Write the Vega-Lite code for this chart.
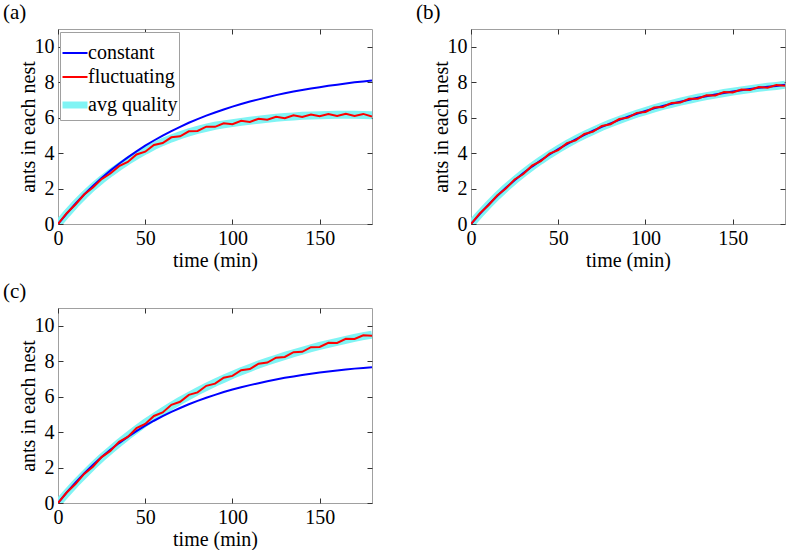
{
"$schema": "https://vega.github.io/schema/vega-lite/v6.json",
"padding": {"left": 2, "top": 1, "right": 0, "bottom": 0},
"background": "white",
"columns": 2,
"spacing": {"column": 99, "row": 84},
"bounds": "flush",
"resolve": {"scale": {"color": "independent", "x": "independent", "y": "independent"}, "legend": {"color": "independent"}},
"datasets": {
"a": [
{"series":"constant","time":0,"ants":0},{"series":"constant","time":5,"ants":0.59},{"series":"constant","time":10,"ants":1.14},{"series":"constant","time":15,"ants":1.66},{"series":"constant","time":20,"ants":2.14},{"series":"constant","time":25,"ants":2.59},{"series":"constant","time":30,"ants":3.01},{"series":"constant","time":35,"ants":3.40},{"series":"constant","time":40,"ants":3.76},{"series":"constant","time":45,"ants":4.10},{"series":"constant","time":50,"ants":4.42},{"series":"constant","time":55,"ants":4.71},{"series":"constant","time":60,"ants":4.99},{"series":"constant","time":65,"ants":5.24},{"series":"constant","time":70,"ants":5.48},{"series":"constant","time":75,"ants":5.71},{"series":"constant","time":80,"ants":5.92},{"series":"constant","time":85,"ants":6.11},{"series":"constant","time":90,"ants":6.29},{"series":"constant","time":95,"ants":6.46},{"series":"constant","time":100,"ants":6.62},{"series":"constant","time":105,"ants":6.77},{"series":"constant","time":110,"ants":6.91},{"series":"constant","time":115,"ants":7.03},{"series":"constant","time":120,"ants":7.15},{"series":"constant","time":125,"ants":7.27},{"series":"constant","time":130,"ants":7.37},{"series":"constant","time":135,"ants":7.47},{"series":"constant","time":140,"ants":7.56},{"series":"constant","time":145,"ants":7.64},{"series":"constant","time":150,"ants":7.72},{"series":"constant","time":155,"ants":7.80},{"series":"constant","time":160,"ants":7.86},{"series":"constant","time":165,"ants":7.93},{"series":"constant","time":170,"ants":7.99},{"series":"constant","time":175,"ants":8.04},{"series":"constant","time":180,"ants":8.10},
{"series":"avg quality","time":0,"ants":0},{"series":"avg quality","time":5,"ants":0.58},{"series":"avg quality","time":10,"ants":1.13},{"series":"avg quality","time":15,"ants":1.63},{"series":"avg quality","time":20,"ants":2.09},{"series":"avg quality","time":25,"ants":2.50},{"series":"avg quality","time":30,"ants":2.88},{"series":"avg quality","time":35,"ants":3.23},{"series":"avg quality","time":40,"ants":3.56},{"series":"avg quality","time":45,"ants":3.86},{"series":"avg quality","time":50,"ants":4.14},{"series":"avg quality","time":55,"ants":4.40},{"series":"avg quality","time":60,"ants":4.63},{"series":"avg quality","time":65,"ants":4.83},{"series":"avg quality","time":70,"ants":5.01},{"series":"avg quality","time":75,"ants":5.17},{"series":"avg quality","time":80,"ants":5.31},{"series":"avg quality","time":85,"ants":5.43},{"series":"avg quality","time":90,"ants":5.54},{"series":"avg quality","time":95,"ants":5.62},{"series":"avg quality","time":100,"ants":5.69},{"series":"avg quality","time":105,"ants":5.76},{"series":"avg quality","time":110,"ants":5.82},{"series":"avg quality","time":115,"ants":5.88},{"series":"avg quality","time":120,"ants":5.94},{"series":"avg quality","time":125,"ants":5.99},{"series":"avg quality","time":130,"ants":6.03},{"series":"avg quality","time":135,"ants":6.07},{"series":"avg quality","time":140,"ants":6.10},{"series":"avg quality","time":145,"ants":6.12},{"series":"avg quality","time":150,"ants":6.14},{"series":"avg quality","time":155,"ants":6.15},{"series":"avg quality","time":160,"ants":6.16},{"series":"avg quality","time":165,"ants":6.16},{"series":"avg quality","time":170,"ants":6.16},{"series":"avg quality","time":175,"ants":6.15},{"series":"avg quality","time":180,"ants":6.13},
{"series":"fluctuating","time":0,"ants":0},{"series":"fluctuating","time":5,"ants":0.61},{"series":"fluctuating","time":10,"ants":1.10},{"series":"fluctuating","time":15,"ants":1.66},{"series":"fluctuating","time":20,"ants":2.06},{"series":"fluctuating","time":25,"ants":2.53},{"series":"fluctuating","time":30,"ants":2.85},{"series":"fluctuating","time":35,"ants":3.26},{"series":"fluctuating","time":40,"ants":3.50},{"series":"fluctuating","time":45,"ants":3.92},{"series":"fluctuating","time":50,"ants":4.08},{"series":"fluctuating","time":55,"ants":4.46},{"series":"fluctuating","time":60,"ants":4.57},{"series":"fluctuating","time":65,"ants":4.89},{"series":"fluctuating","time":70,"ants":4.95},{"series":"fluctuating","time":75,"ants":5.23},{"series":"fluctuating","time":80,"ants":5.25},{"series":"fluctuating","time":85,"ants":5.49},{"series":"fluctuating","time":90,"ants":5.48},{"series":"fluctuating","time":95,"ants":5.68},{"series":"fluctuating","time":100,"ants":5.63},{"series":"fluctuating","time":105,"ants":5.82},{"series":"fluctuating","time":110,"ants":5.76},{"series":"fluctuating","time":115,"ants":5.94},{"series":"fluctuating","time":120,"ants":5.88},{"series":"fluctuating","time":125,"ants":6.05},{"series":"fluctuating","time":130,"ants":5.97},{"series":"fluctuating","time":135,"ants":6.13},{"series":"fluctuating","time":140,"ants":6.04},{"series":"fluctuating","time":145,"ants":6.18},{"series":"fluctuating","time":150,"ants":6.08},{"series":"fluctuating","time":155,"ants":6.21},{"series":"fluctuating","time":160,"ants":6.10},{"series":"fluctuating","time":165,"ants":6.22},{"series":"fluctuating","time":170,"ants":6.10},{"series":"fluctuating","time":175,"ants":6.21},{"series":"fluctuating","time":180,"ants":6.06}
],
"b": [
{"series":"constant","time":0,"ants":0},{"series":"constant","time":5,"ants":0.56},{"series":"constant","time":10,"ants":1.09},{"series":"constant","time":15,"ants":1.58},{"series":"constant","time":20,"ants":2.04},{"series":"constant","time":25,"ants":2.47},{"series":"constant","time":30,"ants":2.87},{"series":"constant","time":35,"ants":3.24},{"series":"constant","time":40,"ants":3.59},{"series":"constant","time":45,"ants":3.92},{"series":"constant","time":50,"ants":4.22},{"series":"constant","time":55,"ants":4.51},{"series":"constant","time":60,"ants":4.78},{"series":"constant","time":65,"ants":5.03},{"series":"constant","time":70,"ants":5.26},{"series":"constant","time":75,"ants":5.48},{"series":"constant","time":80,"ants":5.68},{"series":"constant","time":85,"ants":5.87},{"series":"constant","time":90,"ants":6.05},{"series":"constant","time":95,"ants":6.22},{"series":"constant","time":100,"ants":6.37},{"series":"constant","time":105,"ants":6.52},{"series":"constant","time":110,"ants":6.66},{"series":"constant","time":115,"ants":6.78},{"series":"constant","time":120,"ants":6.90},{"series":"constant","time":125,"ants":7.01},{"series":"constant","time":130,"ants":7.12},{"series":"constant","time":135,"ants":7.21},{"series":"constant","time":140,"ants":7.30},{"series":"constant","time":145,"ants":7.39},{"series":"constant","time":150,"ants":7.47},{"series":"constant","time":155,"ants":7.54},{"series":"constant","time":160,"ants":7.61},{"series":"constant","time":165,"ants":7.68},{"series":"constant","time":170,"ants":7.74},{"series":"constant","time":175,"ants":7.79},{"series":"constant","time":180,"ants":7.85},
{"series":"avg quality","time":0,"ants":0},{"series":"avg quality","time":5,"ants":0.56},{"series":"avg quality","time":10,"ants":1.09},{"series":"avg quality","time":15,"ants":1.58},{"series":"avg quality","time":20,"ants":2.04},{"series":"avg quality","time":25,"ants":2.47},{"series":"avg quality","time":30,"ants":2.87},{"series":"avg quality","time":35,"ants":3.24},{"series":"avg quality","time":40,"ants":3.59},{"series":"avg quality","time":45,"ants":3.92},{"series":"avg quality","time":50,"ants":4.22},{"series":"avg quality","time":55,"ants":4.51},{"series":"avg quality","time":60,"ants":4.78},{"series":"avg quality","time":65,"ants":5.03},{"series":"avg quality","time":70,"ants":5.26},{"series":"avg quality","time":75,"ants":5.48},{"series":"avg quality","time":80,"ants":5.68},{"series":"avg quality","time":85,"ants":5.87},{"series":"avg quality","time":90,"ants":6.05},{"series":"avg quality","time":95,"ants":6.22},{"series":"avg quality","time":100,"ants":6.37},{"series":"avg quality","time":105,"ants":6.52},{"series":"avg quality","time":110,"ants":6.66},{"series":"avg quality","time":115,"ants":6.78},{"series":"avg quality","time":120,"ants":6.90},{"series":"avg quality","time":125,"ants":7.01},{"series":"avg quality","time":130,"ants":7.12},{"series":"avg quality","time":135,"ants":7.21},{"series":"avg quality","time":140,"ants":7.30},{"series":"avg quality","time":145,"ants":7.39},{"series":"avg quality","time":150,"ants":7.47},{"series":"avg quality","time":155,"ants":7.54},{"series":"avg quality","time":160,"ants":7.61},{"series":"avg quality","time":165,"ants":7.68},{"series":"avg quality","time":170,"ants":7.74},{"series":"avg quality","time":175,"ants":7.79},{"series":"avg quality","time":180,"ants":7.85},
{"series":"fluctuating","time":0,"ants":0},{"series":"fluctuating","time":5,"ants":0.59},{"series":"fluctuating","time":10,"ants":1.06},{"series":"fluctuating","time":15,"ants":1.61},{"series":"fluctuating","time":20,"ants":2.00},{"series":"fluctuating","time":25,"ants":2.51},{"series":"fluctuating","time":30,"ants":2.82},{"series":"fluctuating","time":35,"ants":3.29},{"series":"fluctuating","time":40,"ants":3.54},{"series":"fluctuating","time":45,"ants":3.97},{"series":"fluctuating","time":50,"ants":4.17},{"series":"fluctuating","time":55,"ants":4.56},{"series":"fluctuating","time":60,"ants":4.72},{"series":"fluctuating","time":65,"ants":5.08},{"series":"fluctuating","time":70,"ants":5.21},{"series":"fluctuating","time":75,"ants":5.53},{"series":"fluctuating","time":80,"ants":5.63},{"series":"fluctuating","time":85,"ants":5.92},{"series":"fluctuating","time":90,"ants":6.00},{"series":"fluctuating","time":95,"ants":6.27},{"series":"fluctuating","time":100,"ants":6.32},{"series":"fluctuating","time":105,"ants":6.57},{"series":"fluctuating","time":110,"ants":6.60},{"series":"fluctuating","time":115,"ants":6.83},{"series":"fluctuating","time":120,"ants":6.85},{"series":"fluctuating","time":125,"ants":7.06},{"series":"fluctuating","time":130,"ants":7.07},{"series":"fluctuating","time":135,"ants":7.26},{"series":"fluctuating","time":140,"ants":7.25},{"series":"fluctuating","time":145,"ants":7.44},{"series":"fluctuating","time":150,"ants":7.42},{"series":"fluctuating","time":155,"ants":7.59},{"series":"fluctuating","time":160,"ants":7.56},{"series":"fluctuating","time":165,"ants":7.73},{"series":"fluctuating","time":170,"ants":7.69},{"series":"fluctuating","time":175,"ants":7.84},{"series":"fluctuating","time":180,"ants":7.80}
],
"c": [
{"series":"constant","time":0,"ants":0},{"series":"constant","time":5,"ants":0.60},{"series":"constant","time":10,"ants":1.15},{"series":"constant","time":15,"ants":1.67},{"series":"constant","time":20,"ants":2.14},{"series":"constant","time":25,"ants":2.59},{"series":"constant","time":30,"ants":3.00},{"series":"constant","time":35,"ants":3.38},{"series":"constant","time":40,"ants":3.73},{"series":"constant","time":45,"ants":4.05},{"series":"constant","time":50,"ants":4.36},{"series":"constant","time":55,"ants":4.64},{"series":"constant","time":60,"ants":4.90},{"series":"constant","time":65,"ants":5.14},{"series":"constant","time":70,"ants":5.36},{"series":"constant","time":75,"ants":5.57},{"series":"constant","time":80,"ants":5.76},{"series":"constant","time":85,"ants":5.94},{"series":"constant","time":90,"ants":6.10},{"series":"constant","time":95,"ants":6.26},{"series":"constant","time":100,"ants":6.40},{"series":"constant","time":105,"ants":6.53},{"series":"constant","time":110,"ants":6.65},{"series":"constant","time":115,"ants":6.76},{"series":"constant","time":120,"ants":6.87},{"series":"constant","time":125,"ants":6.97},{"series":"constant","time":130,"ants":7.06},{"series":"constant","time":135,"ants":7.14},{"series":"constant","time":140,"ants":7.22},{"series":"constant","time":145,"ants":7.29},{"series":"constant","time":150,"ants":7.36},{"series":"constant","time":155,"ants":7.42},{"series":"constant","time":160,"ants":7.47},{"series":"constant","time":165,"ants":7.53},{"series":"constant","time":170,"ants":7.58},{"series":"constant","time":175,"ants":7.62},{"series":"constant","time":180,"ants":7.66},
{"series":"avg quality","time":0,"ants":0},{"series":"avg quality","time":5,"ants":0.56},{"series":"avg quality","time":10,"ants":1.10},{"series":"avg quality","time":15,"ants":1.60},{"series":"avg quality","time":20,"ants":2.09},{"series":"avg quality","time":25,"ants":2.55},{"series":"avg quality","time":30,"ants":2.98},{"series":"avg quality","time":35,"ants":3.39},{"series":"avg quality","time":40,"ants":3.79},{"series":"avg quality","time":45,"ants":4.16},{"series":"avg quality","time":50,"ants":4.52},{"series":"avg quality","time":55,"ants":4.85},{"series":"avg quality","time":60,"ants":5.17},{"series":"avg quality","time":65,"ants":5.48},{"series":"avg quality","time":70,"ants":5.77},{"series":"avg quality","time":75,"ants":6.04},{"series":"avg quality","time":80,"ants":6.30},{"series":"avg quality","time":85,"ants":6.55},{"series":"avg quality","time":90,"ants":6.79},{"series":"avg quality","time":95,"ants":7.01},{"series":"avg quality","time":100,"ants":7.23},{"series":"avg quality","time":105,"ants":7.43},{"series":"avg quality","time":110,"ants":7.62},{"series":"avg quality","time":115,"ants":7.81},{"series":"avg quality","time":120,"ants":7.98},{"series":"avg quality","time":125,"ants":8.14},{"series":"avg quality","time":130,"ants":8.30},{"series":"avg quality","time":135,"ants":8.45},{"series":"avg quality","time":140,"ants":8.59},{"series":"avg quality","time":145,"ants":8.73},{"series":"avg quality","time":150,"ants":8.86},{"series":"avg quality","time":155,"ants":8.98},{"series":"avg quality","time":160,"ants":9.09},{"series":"avg quality","time":165,"ants":9.20},{"series":"avg quality","time":170,"ants":9.31},{"series":"avg quality","time":175,"ants":9.41},{"series":"avg quality","time":180,"ants":9.50},
{"series":"fluctuating","time":0,"ants":0},{"series":"fluctuating","time":5,"ants":0.59},{"series":"fluctuating","time":10,"ants":1.07},{"series":"fluctuating","time":15,"ants":1.64},{"series":"fluctuating","time":20,"ants":2.05},{"series":"fluctuating","time":25,"ants":2.59},{"series":"fluctuating","time":30,"ants":2.94},{"series":"fluctuating","time":35,"ants":3.45},{"series":"fluctuating","time":40,"ants":3.73},{"series":"fluctuating","time":45,"ants":4.22},{"series":"fluctuating","time":50,"ants":4.46},{"series":"fluctuating","time":55,"ants":4.91},{"series":"fluctuating","time":60,"ants":5.11},{"series":"fluctuating","time":65,"ants":5.54},{"series":"fluctuating","time":70,"ants":5.71},{"series":"fluctuating","time":75,"ants":6.10},{"series":"fluctuating","time":80,"ants":6.24},{"series":"fluctuating","time":85,"ants":6.61},{"series":"fluctuating","time":90,"ants":6.73},{"series":"fluctuating","time":95,"ants":7.07},{"series":"fluctuating","time":100,"ants":7.17},{"series":"fluctuating","time":105,"ants":7.49},{"series":"fluctuating","time":110,"ants":7.56},{"series":"fluctuating","time":115,"ants":7.86},{"series":"fluctuating","time":120,"ants":7.92},{"series":"fluctuating","time":125,"ants":8.20},{"series":"fluctuating","time":130,"ants":8.24},{"series":"fluctuating","time":135,"ants":8.51},{"series":"fluctuating","time":140,"ants":8.53},{"series":"fluctuating","time":145,"ants":8.79},{"series":"fluctuating","time":150,"ants":8.80},{"series":"fluctuating","time":155,"ants":9.04},{"series":"fluctuating","time":160,"ants":9.03},{"series":"fluctuating","time":165,"ants":9.26},{"series":"fluctuating","time":170,"ants":9.25},{"series":"fluctuating","time":175,"ants":9.46},{"series":"fluctuating","time":180,"ants":9.44}
]
},
"concat": [
{
"width": 314, "height": 195,
"title": {"text": "(a)"},
"data": {"name": "a"},
"layer": [
{"transform": [{"filter": "datum.series === 'avg quality'"}],
 "mark": {"type": "line", "strokeWidth": 8, "clip": true},
 "encoding": {
  "x": {"field": "time", "type": "quantitative", "scale": {"domain": [0, 180], "nice": false}, "axis": {"orient": "bottom", "values": [0, 50, 100, 150], "title": "time (min)"}},
  "y": {"field": "ants", "type": "quantitative", "scale": {"domain": [0, 11], "nice": false}, "axis": {"orient": "left", "values": [0, 2, 4, 6, 8, 10], "title": "ants in each nest", "titlePadding": -4}},
  "color": {"field": "series", "type": "nominal", "scale": {"domain": ["constant", "fluctuating", "avg quality"], "range": ["#0000ff", "#ff0000", "#80f4f4"]}, "legend": {"title": " ", "orient": "none", "legendX": 2, "legendY": 3, "encode": {"symbols": {"update": {"strokeWidth": {"signal": "datum.value === 'avg quality' ? 7 : 2"}}}}}}
 }},
{"transform": [{"filter": "datum.series === 'constant'"}],
 "mark": {"type": "line", "strokeWidth": 2, "clip": true},
 "encoding": {
  "x": {"field": "time", "type": "quantitative", "scale": {"domain": [0, 180], "nice": false}, "axis": {"orient": "top", "values": [0, 50, 100, 150], "labels": false, "title": null}},
  "y": {"field": "ants", "type": "quantitative", "scale": {"domain": [0, 11], "nice": false}, "axis": {"orient": "right", "values": [0, 2, 4, 6, 8, 10], "labels": false, "title": null}},
  "color": {"field": "series", "type": "nominal", "scale": {"domain": ["constant", "fluctuating", "avg quality"], "range": ["#0000ff", "#ff0000", "#80f4f4"]}, "legend": {"title": " ", "orient": "none", "legendX": 2, "legendY": 3, "encode": {"symbols": {"update": {"strokeWidth": {"signal": "datum.value === 'avg quality' ? 7 : 2"}}}}}}
 }},
{"transform": [{"filter": "datum.series === 'fluctuating'"}],
 "mark": {"type": "line", "strokeWidth": 2, "clip": true},
 "encoding": {
  "x": {"field": "time", "type": "quantitative", "scale": {"domain": [0, 180], "nice": false}, "axis": null},
  "y": {"field": "ants", "type": "quantitative", "scale": {"domain": [0, 11], "nice": false}, "axis": null},
  "color": {"field": "series", "type": "nominal", "scale": {"domain": ["constant", "fluctuating", "avg quality"], "range": ["#0000ff", "#ff0000", "#80f4f4"]}, "legend": {"title": " ", "orient": "none", "legendX": 2, "legendY": 3, "encode": {"symbols": {"update": {"strokeWidth": {"signal": "datum.value === 'avg quality' ? 7 : 2"}}}}}}
 }}
]
},
{
"width": 314, "height": 195,
"title": {"text": "(b)"},
"data": {"name": "b"},
"layer": [
{"transform": [{"filter": "datum.series === 'avg quality'"}],
 "mark": {"type": "line", "strokeWidth": 8, "clip": true},
 "encoding": {
  "x": {"field": "time", "type": "quantitative", "scale": {"domain": [0, 180], "nice": false}, "axis": {"orient": "bottom", "values": [0, 50, 100, 150], "title": "time (min)"}},
  "y": {"field": "ants", "type": "quantitative", "scale": {"domain": [0, 11], "nice": false}, "axis": {"orient": "left", "values": [0, 2, 4, 6, 8, 10], "title": "ants in each nest", "titlePadding": -4}},
  "color": {"field": "series", "type": "nominal", "scale": {"domain": ["constant", "fluctuating", "avg quality"], "range": ["#0000ff", "#ff0000", "#80f4f4"]}, "legend": null}
 }},
{"transform": [{"filter": "datum.series === 'constant'"}],
 "mark": {"type": "line", "strokeWidth": 2, "clip": true},
 "encoding": {
  "x": {"field": "time", "type": "quantitative", "scale": {"domain": [0, 180], "nice": false}, "axis": {"orient": "top", "values": [0, 50, 100, 150], "labels": false, "title": null}},
  "y": {"field": "ants", "type": "quantitative", "scale": {"domain": [0, 11], "nice": false}, "axis": {"orient": "right", "values": [0, 2, 4, 6, 8, 10], "labels": false, "title": null}},
  "color": {"field": "series", "type": "nominal", "scale": {"domain": ["constant", "fluctuating", "avg quality"], "range": ["#0000ff", "#ff0000", "#80f4f4"]}, "legend": null}
 }},
{"transform": [{"filter": "datum.series === 'fluctuating'"}],
 "mark": {"type": "line", "strokeWidth": 2, "clip": true},
 "encoding": {
  "x": {"field": "time", "type": "quantitative", "scale": {"domain": [0, 180], "nice": false}, "axis": null},
  "y": {"field": "ants", "type": "quantitative", "scale": {"domain": [0, 11], "nice": false}, "axis": null},
  "color": {"field": "series", "type": "nominal", "scale": {"domain": ["constant", "fluctuating", "avg quality"], "range": ["#0000ff", "#ff0000", "#80f4f4"]}, "legend": null}
 }}
]
},
{
"width": 314, "height": 195,
"title": {"text": "(c)"},
"data": {"name": "c"},
"layer": [
{"transform": [{"filter": "datum.series === 'avg quality'"}],
 "mark": {"type": "line", "strokeWidth": 8, "clip": true},
 "encoding": {
  "x": {"field": "time", "type": "quantitative", "scale": {"domain": [0, 180], "nice": false}, "axis": {"orient": "bottom", "values": [0, 50, 100, 150], "title": "time (min)"}},
  "y": {"field": "ants", "type": "quantitative", "scale": {"domain": [0, 11], "nice": false}, "axis": {"orient": "left", "values": [0, 2, 4, 6, 8, 10], "title": "ants in each nest", "titlePadding": -4}},
  "color": {"field": "series", "type": "nominal", "scale": {"domain": ["constant", "fluctuating", "avg quality"], "range": ["#0000ff", "#ff0000", "#80f4f4"]}, "legend": null}
 }},
{"transform": [{"filter": "datum.series === 'constant'"}],
 "mark": {"type": "line", "strokeWidth": 2, "clip": true},
 "encoding": {
  "x": {"field": "time", "type": "quantitative", "scale": {"domain": [0, 180], "nice": false}, "axis": {"orient": "top", "values": [0, 50, 100, 150], "labels": false, "title": null}},
  "y": {"field": "ants", "type": "quantitative", "scale": {"domain": [0, 11], "nice": false}, "axis": {"orient": "right", "values": [0, 2, 4, 6, 8, 10], "labels": false, "title": null}},
  "color": {"field": "series", "type": "nominal", "scale": {"domain": ["constant", "fluctuating", "avg quality"], "range": ["#0000ff", "#ff0000", "#80f4f4"]}, "legend": null}
 }},
{"transform": [{"filter": "datum.series === 'fluctuating'"}],
 "mark": {"type": "line", "strokeWidth": 2, "clip": true},
 "encoding": {
  "x": {"field": "time", "type": "quantitative", "scale": {"domain": [0, 180], "nice": false}, "axis": null},
  "y": {"field": "ants", "type": "quantitative", "scale": {"domain": [0, 11], "nice": false}, "axis": null},
  "color": {"field": "series", "type": "nominal", "scale": {"domain": ["constant", "fluctuating", "avg quality"], "range": ["#0000ff", "#ff0000", "#80f4f4"]}, "legend": null}
 }}
]
}
],
"config": {
 "font": "Liberation Serif",
 "view": {"stroke": "#a0a0a0", "strokeWidth": 1},
 "axis": {"labelFont": "Liberation Serif", "titleFont": "Liberation Serif", "labelFontSize": 20, "titleFontSize": 20, "titleFontWeight": "normal", "labelColor": "#000", "titleColor": "#000", "grid": false, "domain": false, "tickColor": "#333", "tickSize": -5, "tickWidth": 1, "labelPadding": 9, "titlePadding": 2, "labelFlush": false, "labelOverlap": false},
 "legend": {"labelFont": "Liberation Serif", "labelFontSize": 20, "labelColor": "#000", "titleFontSize": 9, "titlePadding": 1, "symbolType": "stroke", "symbolSize": 625, "symbolStrokeWidth": 2, "symbolOffset": 4, "padding": 1, "rowPadding": 4, "labelOffset": 3, "strokeColor": "#a0a0a0", "fillColor": "white", "cornerRadius": 0},
 "title": {"font": "Liberation Serif", "fontSize": 21, "fontWeight": "normal", "color": "#000", "anchor": "start", "frame": "group", "dx": -55, "offset": 6}
}
}
